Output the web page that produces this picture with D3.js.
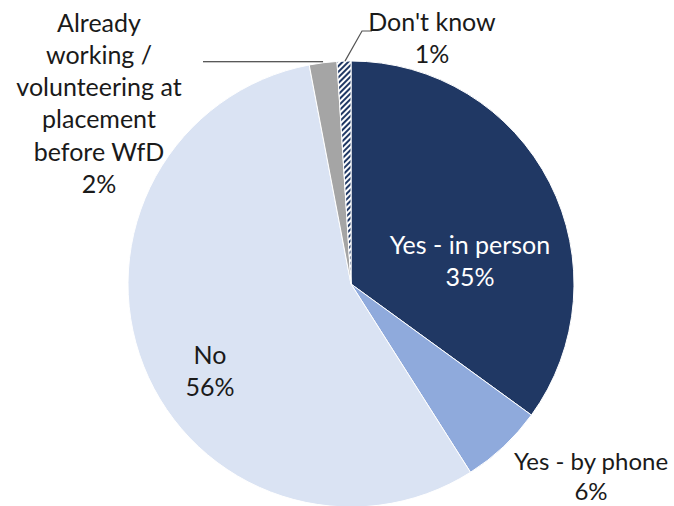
<!DOCTYPE html>
<html>
<head>
<meta charset="utf-8">
<script src="https://cdn.jsdelivr.net/npm/d3@7"></script>
<style>
  body { margin: 0; background: #fff; }
  text { font-family: Lato, "Open Sans", sans-serif; fill: #1a1a1a; }
</style>
</head>
<body>
<svg id="chart" width="674" height="506"></svg>
<script>
const categories = ["Yes - in person", "Yes - by phone", "No", "Already working / volunteering at placement before WfD", "Don't know"]
const values = [35, 6, 56, 2, 1]
const colors = ["#203864", "#8faadc", "#dae3f3", "#a5a5a5", "url(#hatch)"]

const width = 674, height = 506
const cx = 351, cy = 284, radius = 223

let svg = d3.select("#chart")

// hatch for the small slice
let defs = svg.append("defs")
let pat = defs.append("pattern").attr("id", "hatch")
    .attr("patternUnits", "userSpaceOnUse")
    .attr("width", 4).attr("height", 4)
    .attr("patternTransform", "rotate(45)")
pat.append("rect").attr("width", 4).attr("height", 4).attr("fill", "#fff")
pat.append("rect").attr("width", 2).attr("height", 4).attr("fill", "#203864")

const pie = d3.pie().sort(null).value(d => d)
const arcs = pie(values)
const arc = d3.arc().innerRadius(0).outerRadius(radius)

let g = svg.append("g").attr("transform", "translate(" + cx + "," + cy + ")")

g.selectAll("path")
    .data(arcs)
    .enter().append("path")
    .attr("d", arc)
    .attr("fill", (d, i) => colors[i])
    .attr("stroke", "#fff")
    .attr("stroke-width", 1)

// point on the rim at middle of slice
function rim(d) {
    let a = (d.startAngle + d.endAngle) / 2
    return [cx + radius * Math.sin(a), cy - radius * Math.cos(a)]
}

// leader lines
let pAlready = rim(arcs[3])
svg.append("path")
    .attr("d", d3.line()([[203, pAlready[1] - 1], [pAlready[0], pAlready[1] - 1]]))
    .attr("stroke", "#222").attr("stroke-width", 1.2).attr("fill", "none")

let pDk = rim(arcs[4])
svg.append("path")
    .attr("d", d3.line()([[pDk[0] + 1, pDk[1]], [362, 31], [372, 31]]))
    .attr("stroke", "#555").attr("stroke-width", 1.2).attr("fill", "none")

// labels
const labels = [
    {lines: ["Yes - in person", values[0] + "%"], x: 470, y: 245, gap: 32, size: 25, fill: "#fff"},
    {lines: ["Yes - by phone", values[1] + "%"], x: 591, y: 462, gap: 29.5, size: 24, fill: "#1a1a1a"},
    {lines: ["No", values[2] + "%"], x: 210, y: 355, gap: 32, size: 25, fill: "#1a1a1a"},
    {lines: ["Already", "working /", "volunteering at", "placement", "before WfD", values[3] + "%"], x: 99, y: 23, gap: 32.2, size: 25, fill: "#1a1a1a"},
    {lines: ["Don't know", values[4] + "%"], x: 432, y: 22, gap: 32, size: 25, fill: "#1a1a1a"}
]

labels.forEach(l => {
    let t = svg.append("text")
        .attr("text-anchor", "middle")
        .style("font-size", l.size + "px")
        .style("fill", l.fill)
    l.lines.forEach((s, i) => {
        t.append("tspan")
            .attr("x", l.x)
            .attr("y", l.y + i * l.gap)
            .attr("dy", "0.35em")
            .text(s)
    })
})
</script>
</body>
</html>
